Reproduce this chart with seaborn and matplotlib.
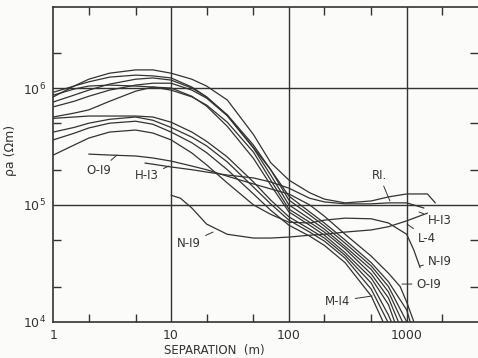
import matplotlib
matplotlib.use("Agg")
import matplotlib.pyplot as plt
import numpy as np
import pandas as pd
import seaborn as sns
from matplotlib.ticker import LogLocator, FixedLocator, FixedFormatter, NullFormatter

# ---- data (separation in m, apparent resistivity in ohm m) ----
sep_ri = [1, 1.5, 2, 3, 5, 7, 10, 15, 20, 30, 50, 70, 100, 150, 200, 300, 500, 700, 1000, 1500, 1750]
rho_ri = [8.4e5, 1.04e6, 1.19e6, 1.34e6, 1.43e6, 1.43e6, 1.34e6, 1.19e6, 1.04e6, 7.9e5, 4.0e5, 2.3e5,
          1.63e5, 1.27e5, 1.12e5, 1.04e5, 1.08e5, 1.17e5, 1.24e5, 1.24e5, 1.04e5]

sep_a = [1, 1.5, 2, 3, 5, 7, 10, 15, 20, 30, 50, 70, 100, 150, 200, 300, 500, 700, 1000, 1070]
rho_a = [9.2e5, 1.04e6, 1.13e6, 1.24e6, 1.29e6, 1.27e6, 1.22e6, 1.02e6, 8.4e5, 5.8e5, 3.1e5, 2.0e5,
         1.19e5, 8.7e4, 7.0e4, 5.0e4, 3.2e4, 2.2e4, 1.26e4, 1.0e4]

sep_b = [1, 1.5, 2, 3, 5, 7, 10, 15, 20, 30, 50, 70, 100, 150, 200, 300, 500, 700, 1000]
rho_b = [7.6e5, 8.7e5, 9.6e5, 1.08e6, 1.19e6, 1.22e6, 1.17e6, 1.0e6, 8.4e5, 5.9e5, 3.25e5, 2.0e5,
         1.1e5, 8.2e4, 6.6e4, 4.7e4, 3.0e4, 2.0e4, 1.0e4]

sep_c = [1, 1.5, 2, 3, 5, 7, 10, 15, 20, 30, 50, 70, 100, 150, 200, 300, 500, 700, 920]
rho_c = [6.9e5, 7.7e5, 8.5e5, 9.6e5, 1.06e6, 1.1e6, 1.1e6, 9.6e5, 8.2e5, 5.8e5, 3.06e5, 1.8e5,
         1.0e5, 7.6e4, 6.2e4, 4.4e4, 2.8e4, 1.8e4, 1.0e4]

sep_d = [1, 1.5, 2, 3, 5, 7, 10, 15, 20, 30, 50, 70, 100, 150, 200, 300, 500, 700, 850]
rho_d = [8.7e5, 9.8e5, 1.04e6, 1.06e6, 1.04e6, 1.02e6, 9.6e5, 8.4e5, 7.15e5, 5.1e5, 2.83e5, 1.63e5,
         9.2e4, 7.1e4, 5.85e4, 4.2e4, 2.56e4, 1.6e4, 1.0e4]

sep_e = [1, 1.5, 2, 3, 5, 7, 10, 15, 20, 30, 50, 70, 100, 150, 200, 300, 500, 700, 790]
rho_e = [5.65e5, 6.1e5, 6.5e5, 7.7e5, 9.4e5, 1.02e6, 1.0e6, 8.5e5, 7.0e5, 4.7e5, 2.5e5, 1.48e5,
         8.7e4, 6.7e4, 5.5e4, 3.9e4, 2.36e4, 1.4e4, 1.0e4]

sep_f = [1, 1.5, 2, 3, 5, 7, 10, 15, 20, 30, 50, 70, 100, 150, 200, 300, 500, 700, 740]
rho_f = [5.5e5, 5.65e5, 5.76e5, 5.76e5, 5.76e5, 5.65e5, 5.1e5, 4.2e5, 3.5e5, 2.57e5, 1.57e5, 1.1e5,
         7.9e4, 6.2e4, 5.2e4, 3.7e4, 2.14e4, 1.14e4, 1.0e4]

sep_g = [1, 1.5, 2, 3, 5, 7, 10, 15, 20, 30, 50, 70, 100, 150, 200, 300, 500, 690]
rho_g = [4.2e5, 4.6e5, 5.0e5, 5.4e5, 5.65e5, 5.3e5, 4.6e5, 3.8e5, 3.2e5, 2.33e5, 1.42e5, 1.02e5,
         7.4e4, 5.85e4, 4.9e4, 3.5e4, 1.9e4, 1.0e4]

sep_m14 = [1, 1.5, 2, 3, 5, 7, 10, 15, 20, 30, 50, 70, 100, 150, 200, 300, 500, 630]
rho_m14 = [3.6e5, 4.1e5, 4.55e5, 5.0e5, 5.2e5, 4.9e5, 4.2e5, 3.4e5, 2.8e5, 2.0e5, 1.24e5, 9.0e4,
           6.7e4, 5.4e4, 4.5e4, 3.2e4, 1.66e4, 1.0e4]

sep_h = [1, 1.5, 2, 3, 5, 7, 10, 15, 20, 30, 50, 70, 100, 150, 200, 300, 500, 700, 1000, 1150, 1300]
rho_h = [2.67e5, 3.25e5, 3.73e5, 4.2e5, 4.37e5, 4.12e5, 3.6e5, 2.78e5, 2.2e5, 1.54e5, 1.0e5, 8.3e4,
         7.1e4, 7.0e4, 7.4e4, 7.7e4, 7.6e4, 7.0e4, 5.6e4, 4.1e4, 2.9e4]

sep_o19 = [2, 3, 5, 7, 10, 15, 20, 30, 50, 70, 100, 150, 200, 300, 500, 700, 880, 1000, 1150]
rho_o19 = [2.72e5, 2.67e5, 2.62e5, 2.52e5, 2.37e5, 2.15e5, 2.0e5, 1.76e5, 1.51e5, 1.37e5, 1.24e5,
           1.0e5, 8.0e4, 5.6e4, 3.64e4, 2.6e4, 2.0e4, 1.47e4, 1.0e4]

sep_h13 = [6, 7, 10, 15, 20, 30, 50, 70, 100, 150, 200, 300, 500, 700, 1000, 1400]
rho_h13 = [2.28e5, 2.23e5, 2.11e5, 2.0e5, 1.91e5, 1.8e5, 1.7e5, 1.57e5, 1.39e5, 1.14e5, 1.06e5,
           1.02e5, 1.02e5, 1.04e5, 1.04e5, 9.4e4]

sep_n19 = [10, 12, 15, 20, 30, 50, 70, 100, 150, 200, 300, 500, 700, 1000, 1500]
rho_n19 = [1.21e5, 1.14e5, 9.4e4, 6.85e4, 5.6e4, 5.2e4, 5.2e4, 5.3e4, 5.5e4, 5.6e4, 5.85e4, 6.1e4,
           6.5e4, 7.3e4, 8.5e4]

x_ticks = [1, 10, 100, 1000]
x_labels = ["1", "10", "100", "1000"]
y_ticks = [1e4, 1e5, 1e6]
y_labels = ["$10^4$", "$10^5$", "$10^6$"]

curves = {
    "RI": (sep_ri, rho_ri), "A": (sep_a, rho_a), "B": (sep_b, rho_b), "C": (sep_c, rho_c),
    "D": (sep_d, rho_d), "E": (sep_e, rho_e), "F": (sep_f, rho_f), "G": (sep_g, rho_g),
    "M-I4": (sep_m14, rho_m14), "Hump": (sep_h, rho_h), "O-I9": (sep_o19, rho_o19),
    "H-I3": (sep_h13, rho_h13), "N-I9": (sep_n19, rho_n19),
}
rows = []
for name, (s_list, r_list) in curves.items():
    for s, r in zip(s_list, r_list):
        rows.append((name, s, r))
df = pd.DataFrame(rows, columns=["curve", "separation", "rho"])

# ---- style ----
ink = "#333333"
bg = "#fbfbf9"
sns.set_theme(style="white")
plt.rcParams["font.family"] = ["DejaVu Sans"]
plt.rcParams["mathtext.fontset"] = "dejavusans"

fig = plt.figure(figsize=(4.78, 3.58), dpi=100, facecolor=bg)
ax = fig.add_axes([0.1115, 0.1014, 0.8885, 0.8782])
ax.set_facecolor(bg)
ax.set_xscale("log")
ax.set_yscale("log")

sns.lineplot(data=df, x="separation", y="rho", units="curve", estimator=None, sort=False,
             color=ink, lw=0.9, ax=ax, legend=False)

ax.set_xlim(1, 4030)
ax.set_ylim(1e4, 4.91e6)

# grid at major decades
for xv in x_ticks[1:]:
    ax.axvline(xv, color=ink, lw=1.0, zorder=0)
for yv in y_ticks[1:]:
    ax.axhline(yv, color=ink, lw=1.0, zorder=0)

for side in ["left", "bottom", "top"]:
    ax.spines[side].set_color(ink)
    ax.spines[side].set_linewidth(1.2)
ax.spines["right"].set_visible(False)

ax.xaxis.set_major_locator(FixedLocator(x_ticks))
ax.xaxis.set_major_formatter(FixedFormatter(x_labels))
ax.yaxis.set_major_locator(FixedLocator(y_ticks))
ax.yaxis.set_major_formatter(FixedFormatter(y_labels))
ax.xaxis.set_minor_locator(LogLocator(base=10, subs=(2, 5)))
ax.yaxis.set_minor_locator(LogLocator(base=10, subs=(2, 5)))
ax.xaxis.set_minor_formatter(NullFormatter())
ax.yaxis.set_minor_formatter(NullFormatter())
ax.tick_params(which="major", length=0, labelsize=9, labelcolor=ink, pad=5)
ax.tick_params(which="minor", direction="in", length=6, width=1.0, color=ink,
               top=True, right=True, bottom=True, left=True)

ax.set_xlabel("SEPARATION  (m)", fontsize=8.5, color=ink, va="center")
ax.set_ylabel("ρa (Ωm)", fontsize=9, color=ink)
ax.xaxis.set_label_coords(0.38, -0.092)
ax.yaxis.set_label_coords(-0.085, 0.545)

# curve labels with leader lines
lead = dict(arrowstyle="-", lw=0.7, color=ink, shrinkA=1, shrinkB=0)
notes = [
    ("O-I9", (3.47, 2.67e5), (2.44, 1.95e5)),
    ("H-I3", (9.6, 2.15e5), (6.24, 1.77e5)),
    ("N-I9", (22.7, 5.85e4), (14.2, 4.71e4)),
    ("RI.", (721, 1.08e5), (582, 1.8e5)),
    ("H-I3", (1271, 8.7e4), (1918, 7.4e4)),
    ("L-4", (1006, 6.85e4), (1487, 5.2e4)),
    ("N-I9", (1297, 3.0e4), (1918, 3.3e4)),
    ("O-I9", (912, 2.1e4), (1546, 2.1e4)),
    ("M-I4", (508, 1.66e4), (261, 1.5e4)),
]
for text, tip, pos in notes:
    ax.annotate(text, xy=tip, xytext=pos, textcoords="data", ha="center", va="center",
                fontsize=8.5, color=ink, arrowprops=lead)

fig.savefig("out.png", dpi=100, facecolor=bg)
